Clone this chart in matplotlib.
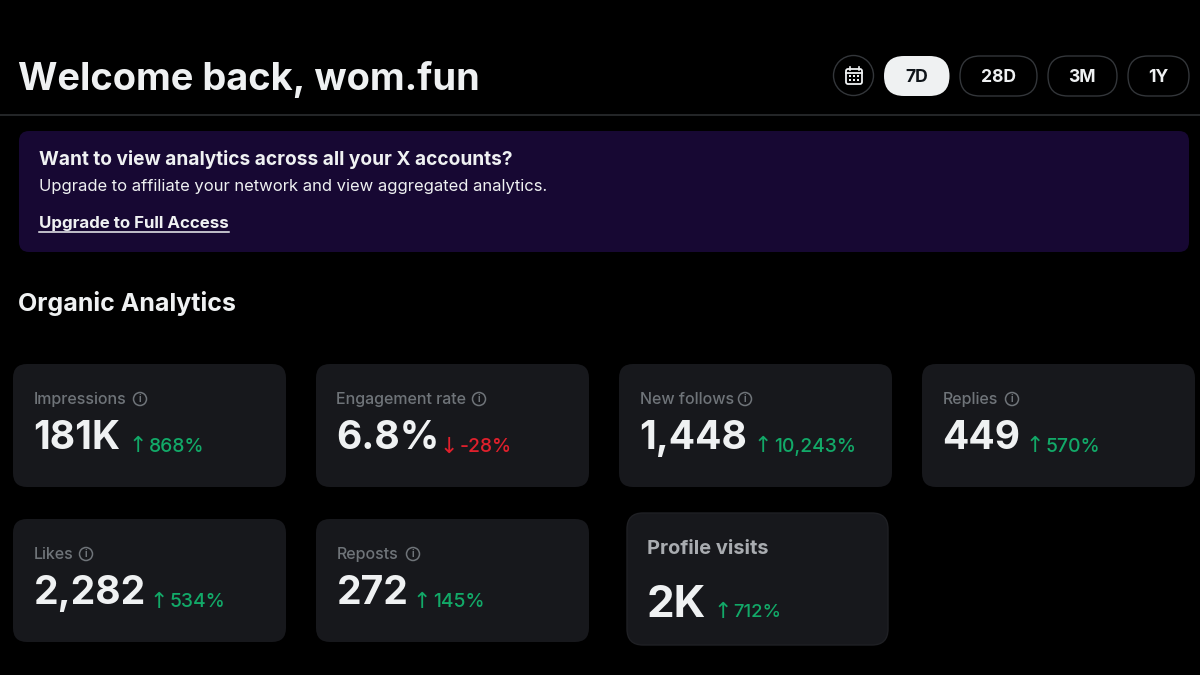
import matplotlib
matplotlib.use("Agg")
import matplotlib.pyplot as plt
from matplotlib.patches import FancyBboxPatch, Circle, Rectangle

plt.rcParams['font.family'] = ['Inter', 'DejaVu Sans']

title = "Welcome back, wom.fun"
ranges = ["7D", "28D", "3M", "1Y"]
banner_head = "Want to view analytics across all your X accounts?"
banner_body = "Upgrade to affiliate your network and view aggregated analytics."
banner_link = "Upgrade to Full Access"
section = "Organic Analytics"
metric_names = ["Impressions", "Engagement rate", "New follows", "Replies", "Likes", "Reposts"]
metric_values = ["181K", "6.8%", "1,448", "449", "2,282", "272"]
metric_deltas = ["868%", "-28%", "10,243%", "570%", "534%", "145%"]
metric_up = [True, False, True, True, True, True]
visits_name = "Profile visits"
visits_value = "2K"
visits_delta = "712%"

WHITE = "#eff1f2"; GREY = "#6f7479"; GREEN = "#12a968"; RED = "#e0202c"; CARD = "#17181c"
EDGE = "#33363a"

fig = plt.figure(figsize=(12, 6.75), dpi=100, facecolor="black")
ax = fig.add_axes([0, 0, 1, 1])
ax.set_xlim(0, 1200); ax.set_ylim(675, 0); ax.axis("off")


def box(x0, y0, x1, y1, r, fc, ec="none", lw=0, z=1):
    ax.add_patch(FancyBboxPatch((x0 + r, y0 + r), x1 - x0 - 2 * r, y1 - y0 - 2 * r,
                                boxstyle=f"round,pad={r},rounding_size={r}",
                                fc=fc, ec=ec, lw=lw, zorder=z))


def px(s):
    return s * 0.72


def txt(x, y, s, size, color, weight="normal", **kw):
    return ax.text(x, y, s, fontsize=px(size), color=color, fontweight=weight,
                   va="baseline", ha=kw.pop("ha", "left"), zorder=5, **kw)


# header
txt(18.5, 90, title, 38, WHITE, "bold")
ax.plot([0, 1200], [115, 115], color="#2b2d30", lw=1.2, zorder=2)

# calendar button
ax.add_patch(Circle((853.5, 75.5), 20, fc="black", ec=EDGE, lw=1, zorder=2))
box(846, 69, 862, 84, 2, "none", WHITE, 1.3, 3)
ax.plot([846, 862], [72.5, 72.5], color=WHITE, lw=1.3, zorder=3)
ax.plot([849.5, 849.5], [67, 70], color=WHITE, lw=1.2, zorder=3)
ax.plot([858.5, 858.5], [67, 70], color=WHITE, lw=1.2, zorder=3)
for gx in (850, 854, 858):
    for gy in (76, 80):
        ax.add_patch(Rectangle((gx - 0.7, gy - 0.7), 1.4, 1.4, fc=WHITE, ec="none", zorder=3))

# range buttons
spans = [(884, 949.5), (960, 1037), (1048, 1117), (1128, 1189)]
for i, (lab, (a, b)) in enumerate(zip(ranges, spans)):
    if i == 0:
        box(a, 56, b, 96, 20, WHITE, z=2)
        c = "#0f1419"
    else:
        box(a, 56, b, 96, 20, "black", EDGE, 1, z=2)
        c = WHITE
    txt((a + b) / 2 - 0.5, 82.5, lab, 17.5, c, "bold", ha="center")

# banner
box(19, 131, 1189, 252, 10, "#170833")
txt(39, 165, banner_head, 19.1, WHITE, "bold")
txt(39, 191, banner_body, 16.6, WHITE)
txt(39, 228, banner_link, 16.9, WHITE, "bold")
ax.plot([39, 229], [231.5, 231.5], color=WHITE, lw=1.1, zorder=5)

txt(18.5, 311, section, 25, WHITE, "bold")

# cards
xs = [13, 316, 619, 922, 13, 316]
ys = [364, 364, 364, 364, 519, 519]
inf = [140, 479, 745, 1012, 86, 413]
dx = [130, 441, 755, 1027, 151, 414]
for i in range(6):
    x, y = xs[i], ys[i]
    box(x, y, x + 273, y + 123, 14, CARD)
    txt(x + 20.5, y + 40, metric_names[i], 16, GREY, "medium")
    ax.add_patch(Circle((inf[i], y + 35), 6.5, fc="none", ec=GREY, lw=1.1, zorder=5))
    ax.text(inf[i], y + 35.3, "i", color=GREY, fontsize=7, fontweight="bold", ha="center", va="center", zorder=6)
    txt(x + 20.5, y + 85, metric_values[i], 39, WHITE, "bold")
    c = GREEN if metric_up[i] else RED
    arrow = "↑" if metric_up[i] else "↓"
    txt(dx[i] - 1.5, y + 88.5, arrow, 22, c, family="DejaVu Sans")
    txt(dx[i] + 19, y + 88, metric_deltas[i], 19.3, c, "medium")

# profile visits (pasted card)
box(627, 513, 888, 645, 16, CARD, "#1f2024", 1)
txt(647, 554, visits_name, 20, "#a9acb0", "bold")
txt(647, 617, visits_value, 44, WHITE, "bold")
txt(713.5, 617.5, "↑", 22, GREEN, family="DejaVu Sans")
txt(733, 617, visits_delta, 18.5, GREEN, "medium")

fig.savefig("out.png", dpi=100, facecolor="black")
